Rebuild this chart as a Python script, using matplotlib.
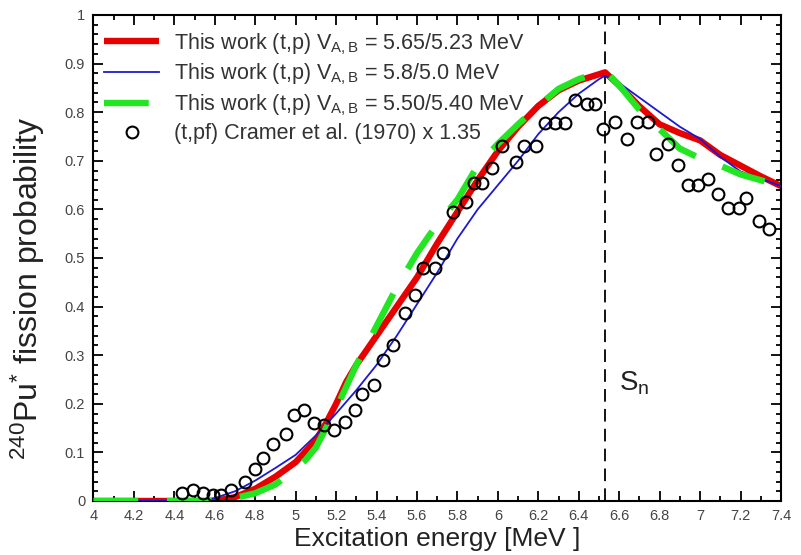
import matplotlib
matplotlib.use("Agg")
import matplotlib.pyplot as plt
from matplotlib.ticker import MultipleLocator

plt.rcParams['font.family'] = ['Liberation Sans', 'DejaVu Sans']
plt.rcParams['mathtext.fontset'] = 'custom'
plt.rcParams['mathtext.rm'] = 'Liberation Sans'
plt.rcParams['mathtext.it'] = 'Liberation Sans:italic'

# model curves, V_A/V_B = 5.65/5.23 MeV
e_red = [4.0, 4.6, 4.7, 4.8, 4.9, 5.0, 5.1, 5.15, 5.2, 5.25, 5.3, 5.4, 5.5,
         5.6, 5.7, 5.8, 5.9, 6.0, 6.1, 6.2, 6.3, 6.4, 6.5, 6.53, 6.6, 6.7,
         6.8, 6.9, 7.0, 7.1, 7.2, 7.3, 7.4]
p_red = [0.0, 0.0, 0.008, 0.025, 0.05, 0.08, 0.125, 0.16, 0.2, 0.245, 0.28,
         0.34, 0.40, 0.46, 0.53, 0.595, 0.66, 0.72, 0.77, 0.813, 0.845, 0.865,
         0.878, 0.882, 0.855, 0.812, 0.775, 0.757, 0.742, 0.712, 0.69, 0.668,
         0.648]

# V_A/V_B = 5.8/5.0 MeV
e_blue = [4.0, 4.5, 4.6, 4.7, 4.8, 4.9, 5.0, 5.1, 5.2, 5.3, 5.4, 5.5, 5.6,
          5.7, 5.8, 5.9, 6.0, 6.1, 6.2, 6.3, 6.4, 6.5, 6.53, 6.6, 6.7, 6.8,
          6.9, 7.0, 7.1, 7.2, 7.3, 7.4]
p_blue = [0.0, 0.0, 0.006, 0.02, 0.042, 0.068, 0.095, 0.135, 0.18, 0.228,
          0.28, 0.34, 0.405, 0.47, 0.54, 0.60, 0.65, 0.70, 0.755, 0.80, 0.838,
          0.868, 0.875, 0.86, 0.83, 0.80, 0.77, 0.745, 0.708, 0.678, 0.663,
          0.648]

# V_A/V_B = 5.50/5.40 MeV
e_green = [4.0, 4.65, 4.7, 4.8, 4.9, 5.0, 5.05, 5.1, 5.15, 5.2, 5.25, 5.3,
           5.4, 5.5, 5.6, 5.7, 5.8, 5.9, 6.0, 6.1, 6.2, 6.3, 6.4, 6.5, 6.53,
           6.6, 6.7, 6.8, 6.9, 7.0, 7.1, 7.2, 7.3, 7.4]
p_green = [0.0, 0.0, 0.006, 0.016, 0.034, 0.065, 0.085, 0.11, 0.15, 0.19,
           0.235, 0.28, 0.36, 0.44, 0.51, 0.57, 0.62, 0.69, 0.735, 0.775,
           0.813, 0.848, 0.868, 0.882, 0.885, 0.855, 0.805, 0.765, 0.725,
           0.705, 0.69, 0.672, 0.66, 0.648]

# Cramer et al. (1970) (t,pf) data scaled by 1.35
e_cramer = [4.44, 4.49, 4.54, 4.59, 4.63, 4.68, 4.75, 4.80, 4.84, 4.89, 4.95,
            4.99, 5.04, 5.09, 5.14, 5.19, 5.245, 5.295, 5.33, 5.385, 5.43,
            5.48, 5.54, 5.59, 5.63, 5.69, 5.73, 5.78, 5.84, 5.88, 5.92, 5.97,
            6.02, 6.09, 6.13, 6.19, 6.235, 6.28, 6.33, 6.38, 6.44, 6.48, 6.52,
            6.58, 6.64, 6.69, 6.74, 6.78, 6.84, 6.89, 6.94, 6.99, 7.04, 7.09,
            7.14, 7.19, 7.225, 7.29, 7.34]
p_cramer = [0.016, 0.023, 0.016, 0.012, 0.012, 0.023, 0.04, 0.066, 0.088,
            0.118, 0.138, 0.177, 0.187, 0.16, 0.156, 0.147, 0.163, 0.187,
            0.22, 0.239, 0.29, 0.322, 0.386, 0.424, 0.48, 0.48, 0.51, 0.595,
            0.616, 0.655, 0.654, 0.685, 0.73, 0.698, 0.73, 0.73, 0.777, 0.777,
            0.777, 0.826, 0.816, 0.816, 0.765, 0.78, 0.745, 0.78, 0.78, 0.713,
            0.735, 0.691, 0.65, 0.65, 0.662, 0.632, 0.602, 0.602, 0.623, 0.577,
            0.559]

x_ticks = [4, 4.2, 4.4, 4.6, 4.8, 5, 5.2, 5.4, 5.6, 5.8, 6, 6.2, 6.4, 6.6,
           6.8, 7, 7.2, 7.4]
x_labels = ['4', '4.2', '4.4', '4.6', '4.8', '5', '5.2', '5.4', '5.6', '5.8',
            '6', '6.2', '6.4', '6.6', '6.8', '7', '7.2', '7.4']
y_ticks = [0, 0.1, 0.2, 0.3, 0.4, 0.5, 0.6, 0.7, 0.8, 0.9, 1]
y_labels = ['0', '0.1', '0.2', '0.3', '0.4', '0.5', '0.6', '0.7', '0.8',
            '0.9', '1']

s_n = 6.53

fig = plt.figure(figsize=(8.01, 5.55), dpi=100)
ax = fig.add_axes([0.1167, 0.0973, 0.8583, 0.8757])

ax.plot(e_red, p_red, color='#e60000', lw=4.6, solid_capstyle='butt',
        label=r'This work (t,p) V$_{\rm A,B}$ = 5.65/5.23 MeV', zorder=2)
ax.plot(e_blue, p_blue, color='#1a1ad2', lw=1.3,
        label=r'This work (t,p) V$_{\rm A,B}$ = 5.8/5.0 MeV', zorder=3)
ax.plot(e_green, p_green, color='#22e622', lw=4.6, dashes=(7, 4.5),
        label=r'This work (t,p) V$_{\rm A,B}$ = 5.50/5.40 MeV', zorder=4)
ax.plot(e_cramer, p_cramer, 'o', mfc='none', mec='black', mew=1.5, ms=8.5,
        label='(t,pf) Cramer et al. (1970) x 1.35', zorder=5)

ax.axvline(s_n, color='black', lw=1.3, dashes=(7, 4), zorder=1)
ax.text(s_n + 0.07, 0.228, r'S$_{\rm n}$', fontsize=20, color='#222222')

ax.set_xlim(4, 7.4)
ax.set_ylim(0, 1)
ax.xaxis.set_minor_locator(MultipleLocator(0.1))
ax.yaxis.set_minor_locator(MultipleLocator(0.02))
ax.set_xticks(x_ticks)
ax.set_xticklabels(x_labels)
ax.set_yticks(y_ticks)
ax.set_yticklabels(y_labels)
ax.tick_params(which='both', direction='in', top=True, right=True,
               labelsize=10.5, labelcolor='#444444', width=1.3)
ax.tick_params(which='major', length=7, pad=6)
ax.tick_params(which='minor', length=3.5)
for sp in ax.spines.values():
    sp.set_linewidth(1.5)

ax.set_xlabel('Excitation energy [MeV ]', fontsize=19, color='#222222',
              labelpad=3)
ax.set_ylabel(r'$^{240}$Pu$^{*}$ fission probability', fontsize=23,
              color='#222222')
ax.yaxis.set_label_coords(-0.068, 0.437)

ax.legend(loc='upper left', bbox_to_anchor=(-0.006, 0.998), frameon=False,
          fontsize=15.5, handlelength=2.55, handletextpad=0.7,
          labelspacing=0.245, borderaxespad=0.3, labelcolor='#333333')

fig.savefig('out.png', dpi=100)
